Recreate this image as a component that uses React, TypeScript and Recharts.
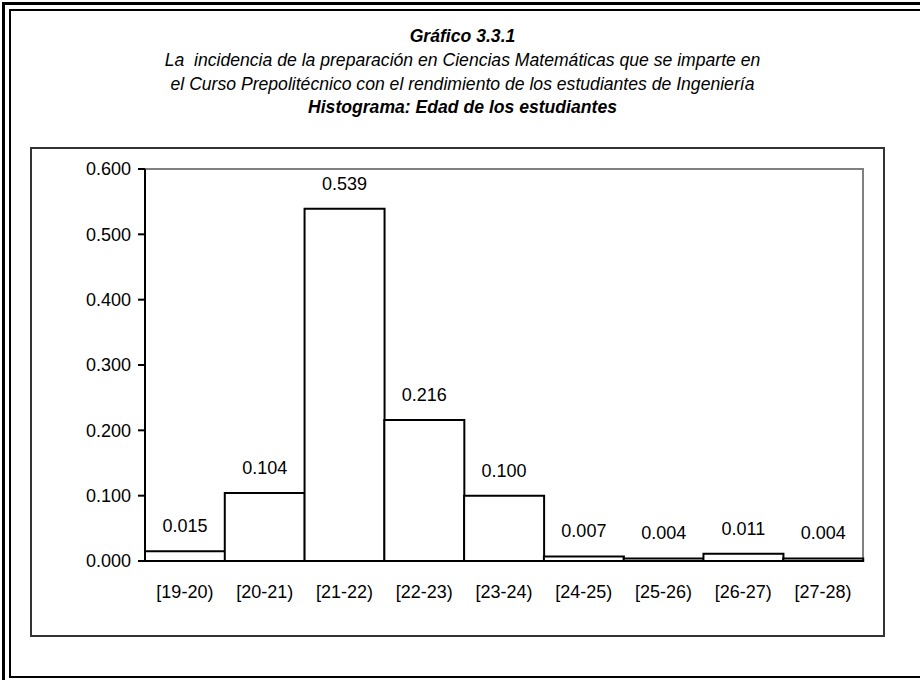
import { BarChart, Bar, XAxis, YAxis, LabelList, ReferenceArea } from "recharts";

const ageRanges = ["[19-20)", "[20-21)", "[21-22)", "[22-23)", "[23-24)", "[24-25)", "[25-26)", "[26-27)", "[27-28)"];
const frequencies = [0.015, 0.104, 0.539, 0.216, 0.1, 0.007, 0.004, 0.011, 0.004];
const yTicks = [0, 0.1, 0.2, 0.3, 0.4, 0.5, 0.6];
const edgeTicks = [0, 1, 2, 3, 4, 5, 6, 7, 8, 9];

const titleLines = [
  { text: "Gráfico 3.3.1", bold: true },
  { text: "La  incidencia de la preparación en Ciencias Matemáticas que se imparte en", bold: false },
  { text: "el Curso Prepolitécnico con el rendimiento de los estudiantes de Ingeniería", bold: false },
  { text: "Histograma: Edad de los estudiantes", bold: true },
];

const data = ageRanges.map((range, i) => ({ range, value: frequencies[i] }));

const font = '"Liberation Sans", Arial, sans-serif';

export default function App() {
  return (
    <div
      style={{
        position: "absolute",
        left: 0,
        top: 0,
        width: 920,
        height: 680,
        overflow: "hidden",
        background: "#fff",
        fontFamily: font,
      }}
    >
      {/* double frame */}
      <div style={{ position: "absolute", left: 2, top: 2, width: 960, height: 720, border: "3px solid #000" }} />
      <div style={{ position: "absolute", left: 9, top: 9, width: 950, height: 665, border: "2px solid #000" }} />

      {titleLines.map((line, i) => (
        <div
          key={i}
          style={{
            position: "absolute",
            left: 0,
            width: 925,
            top: 25 + i * 23.8,
            textAlign: "center",
            whiteSpace: "pre",
            fontSize: 17.6,
            lineHeight: "22px",
            fontStyle: "italic",
            fontWeight: line.bold ? "bold" : "normal",
            color: "#000",
          }}
        >
          {line.text}
        </div>
      ))}

      {/* chart box */}
      <div style={{ position: "absolute", left: 30, top: 147, width: 851, height: 486, border: "2px solid #333" }} />

      <div style={{ position: "absolute", left: 0, top: 0 }}>
        <BarChart
          width={920}
          height={680}
          data={data}
          barCategoryGap={0}
          margin={{ top: 169, right: 57, left: 85, bottom: 79 }}
          style={{ fontFamily: font }}
        >
          <ReferenceArea y1={0} y2={0.6} fill="none" stroke="#808080" strokeWidth={2} ifOverflow="visible" />
          <XAxis
            dataKey="range"
            xAxisId="cat"
            axisLine={false}
            tickLine={false}
            tickSize={0}
            tickMargin={24}
            tick={{ fill: "#000", fontSize: 18 }}
            interval={0}
            height={40}
          />
          <XAxis
            xAxisId="edges"
            type="number"
            domain={[0, 9]}
            ticks={edgeTicks}
            tick={false}
            axisLine={{ stroke: "#000", strokeWidth: 2 }}
            tickLine={{ stroke: "#000", strokeWidth: 2 }}
            tickSize={7}
            height={0}
          />
          <YAxis
            domain={[0, 0.6]}
            ticks={yTicks}
            tickFormatter={(v: number) => v.toFixed(3)}
            axisLine={{ stroke: "#000", strokeWidth: 2 }}
            tickLine={{ stroke: "#000", strokeWidth: 2 }}
            tickSize={7}
            tickMargin={7}
            tick={{ fill: "#000", fontSize: 18 }}
            width={60}
          />
          <Bar dataKey="value" xAxisId="cat" fill="#fff" stroke="#000" strokeWidth={2} isAnimationActive={false}>
            <LabelList
              dataKey="value"
              position="top"
              offset={19}
              formatter={(v: number) => v.toFixed(3)}
              style={{ fill: "#000", fontSize: 18 }}
            />
          </Bar>
        </BarChart>
      </div>
    </div>
  );
}
